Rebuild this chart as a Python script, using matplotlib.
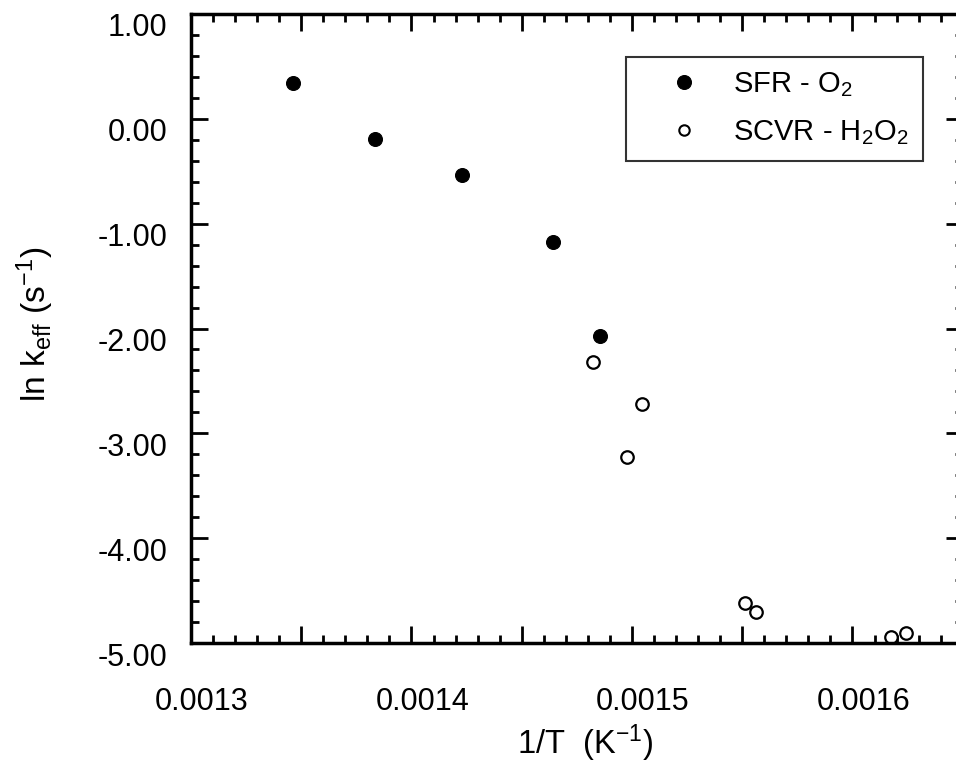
import numpy as np
import matplotlib
matplotlib.use("Agg")
import matplotlib.pyplot as plt
from matplotlib.ticker import MultipleLocator, FuncFormatter
from matplotlib import transforms

# values
sfr_x = [0.0013462, 0.0013836, 0.0014227, 0.0014644, 0.0014856]
sfr_y = [0.344, -0.196, -0.536, -1.178, -2.070]
scvr_x = [0.0014821, 0.0015045, 0.0014976, 0.0015511, 0.0015561, 0.0016173, 0.0016245]
scvr_y = [-2.318, -2.724, -3.224, -4.614, -4.703, -4.942, -4.900]
labels = [r'SFR - O$_2$', r'SCVR - H$_2$O$_2$']

plt.rcParams['font.family'] = ['Liberation Sans', 'DejaVu Sans']
plt.rcParams['mathtext.fontset'] = 'custom'
plt.rcParams['mathtext.rm'] = 'Liberation Sans'
plt.rcParams['mathtext.it'] = 'Liberation Sans:italic'
plt.rcParams['axes.unicode_minus'] = False

fig = plt.figure(figsize=(9.56, 7.63), dpi=100)
ax = fig.add_axes([191/956, 120/763, (962.7-191)/956, (643-14)/763])

ax.plot(sfr_x, sfr_y, 'o', color='black', ms=10, mew=0.8, label=labels[0])
ax.plot(scvr_x, scvr_y, 'o', mfc='white', mec='black', ms=9, mew=1.6, label=labels[1])

ax.set_xlim(0.0013, 0.00165)
ax.set_ylim(-5, 1)

ax.xaxis.set_major_locator(MultipleLocator(0.00005))
ax.xaxis.set_minor_locator(MultipleLocator(0.00001))
ax.yaxis.set_major_locator(MultipleLocator(1.0))
ax.yaxis.set_minor_locator(MultipleLocator(0.2))

def xfmt(v, pos):
    n = int(round(v / 0.00005))
    if n % 2:
        return ''
    return f'{v:.4f}'

ax.xaxis.set_major_formatter(FuncFormatter(xfmt))
ax.yaxis.set_major_formatter(FuncFormatter(lambda v, p: f'{v:.2f}'))

ax.tick_params(which='both', direction='in', top=True, right=True, width=2, colors='black')
ax.tick_params(which='major', length=12, labelsize=22)
ax.tick_params(axis='x', which='major', pad=32)
ax.tick_params(axis='y', which='major', pad=17)
ax.tick_params(which='minor', length=6)

for sp in ax.spines.values():
    sp.set_linewidth(2.5)

# scanned labels sit a bit off their ticks
fig.canvas.draw()
dx = transforms.ScaledTranslation(11/100, 0, fig.dpi_scale_trans)
dy = transforms.ScaledTranslation(0, -11/100, fig.dpi_scale_trans)
for t in ax.get_xticklabels():
    t.set_transform(t.get_transform() + dx)
for t in ax.get_yticklabels():
    t.set_transform(t.get_transform() + dy)

ax.set_xlabel(r'1/T  (K$^{-1}$)', fontsize=23.5)
ax.set_ylabel(r'ln k$_{\mathrm{eff}}$ (s$^{-1}$)', fontsize=24)
ax.xaxis.label.set_va('center')
ax.yaxis.label.set_va('center')
ax.xaxis.set_label_coords(0.51, -0.159)
ax.yaxis.set_label_coords(-0.202, 0.506)

leg = ax.legend(loc='upper right', bbox_to_anchor=(0.948, 0.932), borderaxespad=0,
                fontsize=21, frameon=True, fancybox=False, edgecolor='black',
                handlelength=3.0, handletextpad=0.2, labelspacing=0.65,
                borderpad=0.47)
leg.get_frame().set_linewidth(1.5)
leg.legend_handles[0].set_markersize(10)
leg.legend_handles[1].set_markersize(7.5)
leg.legend_handles[1].set_markeredgewidth(1.5)

fig.savefig('out.png', dpi=100)
